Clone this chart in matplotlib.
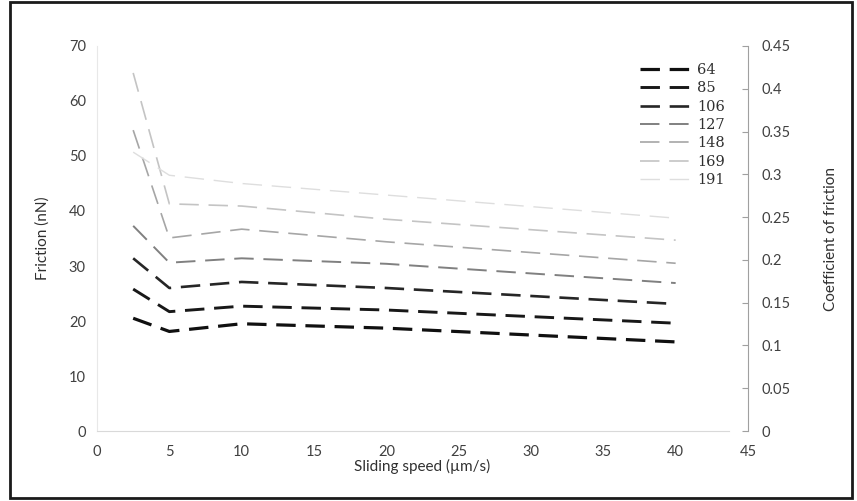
import numpy as np
import matplotlib
matplotlib.use("Agg")
import matplotlib.pyplot as plt
from matplotlib.patches import Rectangle

plt.rcParams['font.family'] = ['Lato', 'DejaVu Sans']
plt.rcParams['lines.scale_dashes'] = False

# -------------------------
# DATA
# -------------------------
speed = [2.5, 5, 10, 20, 40]          # sliding speed (um/s)
loads = ['64', '85', '106', '127', '148', '169', '191']
f64 = [20.5, 18.1, 19.5, 18.7, 16.2]
f85 = [25.8, 21.7, 22.7, 22.0, 19.6]
f106 = [31.4, 26.0, 27.1, 26.0, 23.1]
f127 = [37.3, 30.6, 31.4, 30.4, 26.9]
f148 = [54.7, 35.1, 36.7, 34.4, 30.5]
f169 = [65.1, 41.3, 40.9, 38.5, 34.7]
f191 = [50.7, 46.5, 45.0, 42.9, 38.7]
friction = [f64, f85, f106, f127, f148, f169, f191]

colors = ['#101010', '#181818', '#262626', '#808080', '#a6a6a6', '#c4c4c4', '#dedede']
widths = [2.3, 2.1, 1.9, 1.4, 1.2, 1.2, 1.0]

# -------------------------
# PLOT
# -------------------------
fig = plt.figure(figsize=(8.57, 5.01), dpi=100)
ax = fig.add_axes([0.1132, 0.1397, 0.7596, 0.7685])

for f, lab, c, w in zip(friction, loads, colors, widths):
    ln, = ax.plot(speed, f, color=c, lw=w, label=lab)
    ln.set_dashes([14, 7])

ax.set_xlim(0, 45)
ax.set_ylim(0, 70)
ax.set_xticks(np.arange(0, 50, 5))
ax.set_yticks(np.arange(0, 80, 10))
ax.tick_params(length=0, labelsize=10.5, colors='#404040', pad=8)
ax.tick_params(axis='x', pad=10)
for s in ['top', 'right']:
    ax.spines[s].set_visible(False)
ax.spines['left'].set_color('#e8e8e8')
ax.spines['bottom'].set_color('#d9d9d9')
ax.spines['bottom'].set_bounds(0, 43.7)
ax.set_ylabel('Friction (nN)', fontsize=11, color='#303030', labelpad=14)
ax.set_xlabel('Sliding speed (\u00b5m/s)', fontsize=11, color='#303030', labelpad=0)

# secondary axis: coefficient of friction
ax2 = ax.twinx()
ax2.set_ylim(0, 0.45)
ax2.set_yticks(np.arange(0, 0.46, 0.05))
ax2.set_yticklabels(['0', '0.05', '0.1', '0.15', '0.2', '0.25', '0.3', '0.35', '0.4', '0.45'])
ax2.tick_params(direction='in', length=4, color='#a0a0a0', labelsize=10.5, labelcolor='#404040', pad=10)
for s in ['top', 'left', 'bottom']:
    ax2.spines[s].set_visible(False)
ax2.spines['right'].set_color('#a0a0a0')
ax2.set_ylabel('Coefficient of friction', fontsize=11, color='#303030', labelpad=24)

leg = ax.legend(loc='upper right', bbox_to_anchor=(0.985, 0.99), frameon=False,
                handlelength=3.6, handletextpad=0.3, labelspacing=0.3,
                prop={'family': 'DejaVu Serif', 'size': 10.5})
for t in leg.get_texts():
    t.set_color('#303030')

# frame around the picture
fig.patches.append(Rectangle((0.012, 0.006), 0.982, 0.99, transform=fig.transFigure,
                             fill=False, edgecolor='#1a1a1a', lw=2))

fig.savefig('out.png', dpi=100)
